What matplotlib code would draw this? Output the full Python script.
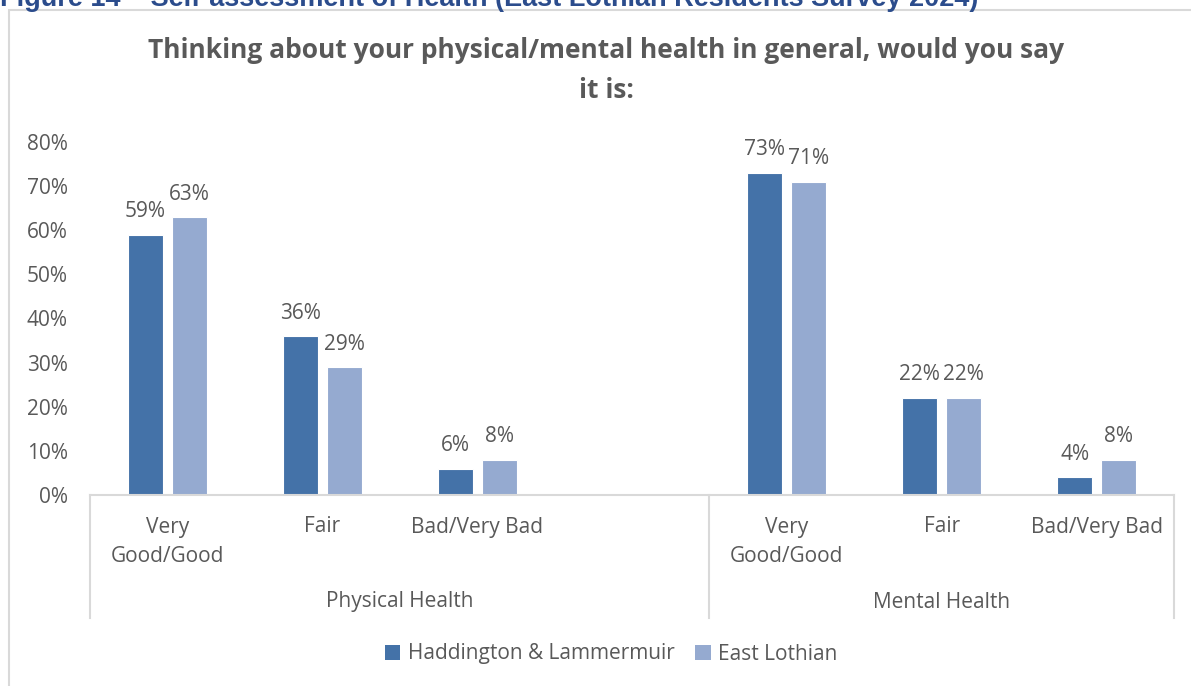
import matplotlib.pyplot as plt
import numpy as np
from matplotlib.patches import Patch, Rectangle

# data
categories = ["Very\nGood/Good", "Fair", "Bad/Very Bad"]
groups = ["Physical Health", "Mental Health"]
series_names = ["Haddington & Lammermuir", "East Lothian"]
haddington = [59, 36, 6, 73, 22, 4]
east_lothian = [63, 29, 8, 71, 22, 8]
yticks = [0, 10, 20, 30, 40, 50, 60, 70, 80]

DARK = "#4472A8"
LIGHT = "#95AAD0"
TEXT = "#595959"
LINE = "#D9D9D9"
FONT = "Open Sans"
FS = 15

plt.rcParams['font.family'] = [FONT, 'DejaVu Sans']

W, H = 1191, 686
fig = plt.figure(figsize=(W / 100, H / 100), dpi=100)

# chart frame (runs off the right and bottom edges)
fig.patches.append(Rectangle((9 / W, -0.05), 1.1, 1 - 10 / H + 0.05, transform=fig.transFigure,
                             fill=False, edgecolor=LINE, linewidth=1.5))

# caption cut off at the top of the page
fig.text(0.0, 1 - 6 / H, "Figure 14 – Self-assessment of Health (East Lothian Residents Survey 2024)",
         ha='left', va='baseline', fontsize=19.5, fontweight='bold', color="#2B4C8C",
         family=['Liberation Sans', 'DejaVu Sans'])

left, right = 90 / W, 1174 / W
bottom, top = 1 - 495 / H, 1 - 142 / H
ax = fig.add_axes([left, bottom, right - left, top - bottom])

# physical group uses slots 0-2 (slot 3 is empty), mental uses 4-6
slots = np.array([0, 1, 2, 4, 5, 6])
bw = 0.226
off = 0.142
b1 = ax.bar(slots - off, haddington, bw, color=DARK, edgecolor='white', linewidth=0.8)
b2 = ax.bar(slots + off, east_lothian, bw, color=LIGHT, edgecolor='white', linewidth=0.8)

for bars, vals in [(b1, haddington), (b2, east_lothian)]:
    for rect, v in zip(bars, vals):
        ax.annotate(f"{v}%", (rect.get_x() + rect.get_width() / 2, v), xytext=(0, 9),
                    textcoords='offset points', ha='center', va='bottom',
                    fontsize=FS, color=TEXT)

ax.set_xlim(-0.5, 6.5)
ax.set_ylim(0, 80)
ax.set_yticks(yticks)
ax.set_yticklabels([f"{t}%" for t in yticks], fontsize=FS, color=TEXT)
ax.tick_params(axis='y', length=0, pad=16)
ax.set_xticks([])
for s in ['top', 'right', 'left']:
    ax.spines[s].set_visible(False)
ax.spines['bottom'].set_color(LINE)
ax.spines['bottom'].set_linewidth(1.5)

# multi-level category axis
axh = 495 - 142
tr = ax.get_xaxis_transform()
for i, x in enumerate(slots):
    lines = categories[i % 3].split("\n")
    for j, line in enumerate(lines):
        ax.text(x, -(527 - 495 + 29 * j) / axh, line, transform=tr, ha='center', va='center',
                fontsize=FS, color=TEXT)
for g, xc in zip(groups, [1.5, 5]):
    ax.text(xc, -(602 - 495) / axh, g, transform=tr, ha='center', va='center',
            fontsize=FS, color=TEXT)
for xs in [-0.5, 3.5, 6.5]:
    ax.plot([xs, xs], [0, -(618 - 495) / axh], transform=tr, color=LINE, linewidth=1.5,
            clip_on=False)

fig.text(606 / W, 1 - 50 / H, "Thinking about your physical/mental health in general, would you say",
         ha='center', va='center', fontsize=19, fontweight='bold', color=TEXT)
fig.text(606 / W, 1 - 90 / H, "it is:", ha='center', va='center', fontsize=19,
         fontweight='bold', color=TEXT)

handles = [Patch(facecolor=DARK), Patch(facecolor=LIGHT)]
fig.legend(handles, series_names, loc='center', bbox_to_anchor=(611 / W, 1 - 654 / H),
           ncol=2, frameon=False, fontsize=FS, labelcolor=TEXT, handlelength=0.75,
           handleheight=0.75, handletextpad=0.35, columnspacing=1.0)

fig.savefig("out.png", dpi=100)
